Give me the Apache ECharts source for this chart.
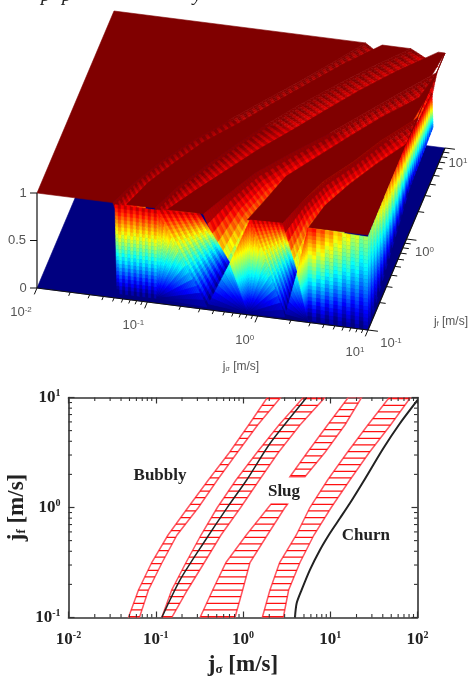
<!DOCTYPE html>
<html><head><meta charset="utf-8">
<style>html,body{margin:0;padding:0;background:#fff}#c{width:471px;height:677px;filter:blur(0.55px)}</style>
<script src="https://cdn.jsdelivr.net/npm/echarts@6/dist/echarts.min.js"></script>
</head><body><div id="c"></div>
<script>
// ---------- values (all exponents are log10 of m/s) ----------
const logJfRows   = [-1,-0.75,-0.5,-0.25,0,0.25,0.5,0.75,1];
const band1Left   = [-1.313,-1.198,-1.046,-0.859,-0.630,-0.397,-0.156,0.065,0.279];
const band1Right  = [-1.187,-1.084,-0.927,-0.756,-0.511,-0.294,-0.065,0.168,0.431];
const band2Left   = [-0.931,-0.817,-0.653,-0.481,-0.294,-0.080,0.160,0.412,0.691];
const band2Right  = [-0.817,-0.637,-0.443,-0.252,-0.027,0.187,0.405,0.653,0.939];
const band3Left   = [-0.492,-0.347,-0.195,0.038,0.290,0.511,0.737,0.969,1.206];
const band3Right  = [-0.092,-0.004,0.080,0.279,0.481,0.691,0.939,1.168,1.359];
const band4Left   = [0.221,0.309,0.420,0.611,0.767,0.970,1.195,1.431,1.676];
const band4Right  = [0.462,0.523,0.653,0.813,1.011,1.225,1.447,1.691,1.920];
// depth of each transition trough (lowest probability per row)
const band1Depth  = [0.65,0.78,0.82,0.84,0.85,0.85,0.86,0.86,0.88];
const band2Depth  = [0.65,0.75,0.78,0.8,0.82,0.84,0.84,0.85,0.85];
const band3Depth  = [0,0.5,0.6,0.66,0.7,0.74,0.78,0.82,0.85];
const band4Depth  = [0,0.5,0.55,0.6,0.65,0.7,0.75,0.8,0.85];
// slug band gap in the 2-D map
const band3LowJf    = [-1,-0.75,-0.5,-0.25,0,0.03];
const band3LowLeft  = [-0.492,-0.347,-0.195,0.038,0.290,0.320];
const band3LowRight = [-0.092,-0.004,0.080,0.279,0.481,0.510];
const band3UpJf     = [0.28,0.5,0.75,1];
const band3UpLeft   = [0.538,0.737,0.969,1.206];
const band3UpRight  = [0.710,0.939,1.168,1.359];
// black transition curves
const curve1Jg = [-0.931,-0.721,-0.454,-0.187,0.042,0.309,0.729];
const curve1Jf = [-1,-0.658,-0.325,-0.008,0.25,0.582,1];
const curve2Jg = [0.595,0.615,0.672,0.767,0.882,0.996,1.111,1.225,1.378,1.607,1.798,2];
const curve2Jf = [-1,-0.87,-0.749,-0.567,-0.386,-0.234,-0.098,0.038,0.234,0.537,0.764,0.976];
// front faces of the surface: [log jg, log jf, z, colour level]
const frontFaces = [
 [[-1.293,-1,0.98,0.93],[-0.912,-1,0.98,0.93],[-0.912,-1,0.05,0],[-1.275,-1,0.05,0]],
 [[-0.912,-1,0.98,0.93],[-0.523,-1,1.0,0.93],[-0.251,-1,0.521,0.06],[-0.459,-1,0.027,0]],
 [[-0.912,-1,0.98,0.93],[-0.459,-1,0.027,0],[-0.912,-1,0.05,0],[-0.912,-1,0.05,0]],
 [[-0.459,-1,0.027,0],[-0.251,-1,0.521,0.42],[-0.088,-1,0.019,0],[-0.088,-1,0.019,0]],
 [[-0.251,-1,0.521,0.6],[-0.069,-1,1,0.9],[-0.088,-1,0.019,0],[-0.088,-1,0.019,0]],
 [[-0.069,-1,1,0.93],[0.221,-1,1.01,0.93],[0.357,-1,0.505,0.08],[0.248,-1,0.026,0]],
 [[-0.069,-1,1,0.93],[0.248,-1,0.026,0],[-0.088,-1,0.019,0],[-0.088,-1,0.019,0]],
 [[0.248,-1,0.026,0],[0.357,-1,0.505,0.42],[0.456,-1,0.025,0],[0.456,-1,0.025,0]],
 [[0.357,-1,0.505,0.6],[0.456,-1,0.994,0.9],[0.456,-1,0.025,0],[0.456,-1,0.025,0]],
 [[0.456,-1,0.994,0.9],[1,-1,0.979,0.5],[1,-1,0,0],[0.456,-1,0.025,0]]
];
const rightFaces = [
 [[1,-1,0.98,0.5],[1,-0.04,1,0.93],[1,0.09,0.46,0.03],[1,-1,0,0]],
 [[1,-0.04,1,0.93],[1,0.66,0.905,0.98],[1,0.688,0.516,0.2],[1,0.09,0.46,0.03]]
];
const jgTickExp = [-2,-1,0,1];
const jfTickExp = [-1,0,1];
const zTicks = [0,0.5,1];
const minorFactors = [2,3,4,5,6,7,8,9];
const regimeLabels = [['Bubbly',0.112,1.93],['Slug',2.95,1.39],['Churn',25.6,0.555]];

// ---------- view of the 3-D box ----------
const view = {ox:37,oy:288,ux:331,uy:42,vx:77,vy:-182,zh:95};
function project(lj,lf,z){
  const u=(lj+2)/3, v=(lf+1)/2;
  return [view.ox+view.ux*u+view.vx*v, view.oy+view.uy*u+view.vy*v-view.zh*z];
}
function jet(t){
  t=Math.max(0,Math.min(1,t));
  const f=a=>Math.round(255*Math.max(0,Math.min(1,1.5-Math.abs(4*t-a))));
  return 'rgb('+f(3)+','+f(2)+','+f(1)+')';
}
const cells=[];
function addCell(pts,c){cells.push({pts:pts.map(p=>project(Math.min(p[0],1),p[1],p[2])),fill:jet(c)});}
const lerp=(a,b,t)=>a+(b-a)*t;
function addPlateau(left,right){
  const pts=[];
  logJfRows.forEach((lf,i)=>pts.push([left?left[i]:-2,lf,1]));
  for(let i=logJfRows.length-1;i>=0;i--)pts.push([right?right[i]:1,logJfRows[i],1]);
  addCell(pts,1);
}
let rowCounter=0;
function addTrough(left,right,depth){
  const nv=12,nu=10;
  for(let i=logJfRows.length-2;i>=0;i--){
    for(let t=nv-1;t>=0;t--){
      rowCounter++;
      const a=t/nv,b=(t+1)/nv;
      const lfA=lerp(logJfRows[i],logJfRows[i+1],a),lfB=lerp(logJfRows[i],logJfRows[i+1],b);
      const LA=lerp(left[i],left[i+1],a),LB=lerp(left[i],left[i+1],b);
      const RA=lerp(right[i],right[i+1],a),RB=lerp(right[i],right[i+1],b);
      const dA=lerp(depth[i],depth[i+1],a),dB=lerp(depth[i],depth[i+1],b);
      for(let s=0;s<nu;s++){
        const p=s/nu,q=(s+1)/nu;
        if(Math.min(LA+(RA-LA)*p,LB+(RB-LB)*p)>1)continue;
        const zz=(d,x)=>1-(1-d)*x;
        const cz=zz((dA+dB)/2,(p+q)/2);
        const streak=(rowCounter%2?0.035:-0.01)*(p>0.05?1:0);
        addCell([[lerp(LA,RA,p),lfA,zz(dA,p)],[lerp(LA,RA,q),lfA,zz(dA,q)],[lerp(LB,RB,q),lfB,zz(dB,q)],[lerp(LB,RB,p),lfB,zz(dB,p)]],cz+streak);
      }
    }
  }
}
function addFace(face,nu,nv,amp){
  const bil=(k,s,t)=>lerp(lerp(face[0][k],face[1][k],s),lerp(face[3][k],face[2][k],s),t);
  for(let i=0;i<nu;i++)for(let j=0;j<nv;j++){
    const s0=i/nu,s1=(i+1)/nu,t0=j/nv,t1=(j+1)/nv;
    const P=(s,t)=>[bil(0,s,t),bil(1,s,t),bil(2,s,t)];
    addCell([P(s0,t0),P(s1,t0),P(s1,t1),P(s0,t1)],bil(3,(s0+s1)/2,(t0+t1)/2)+(i%2?amp:-amp));
  }
}
addCell([[-2,-1,0],[1,-1,0],[1,1,0],[-2,1,0]],0);
addPlateau(null,band1Left);
addTrough(band1Left,band1Right,band1Depth);
addPlateau(band1Right,band2Left);
addTrough(band2Left,band2Right,band2Depth);
addPlateau(band2Right,band3Left);
addTrough(band3Left,band3Right,band3Depth);
addPlateau(band3Right,band4Left);
addTrough(band4Left,band4Right,band4Depth);
addPlateau(band4Right,null);
rightFaces.forEach(f=>addFace(f,26,22,0.025));
frontFaces.forEach((f,i)=>addFace(f,14,24,(f[2][0]===f[3][0])?0.008:0.03));

const p10=x=>Math.pow(10,x);
const edge=(rows,vals)=>rows.map((r,i)=>[p10(vals[i]),p10(r)]);
const bandEdges=[
  [edge(logJfRows,band1Left),edge(logJfRows,band1Right)],
  [edge(logJfRows,band2Left),edge(logJfRows,band2Right)],
  [edge(band3LowJf,band3LowLeft),edge(band3LowJf,band3LowRight)],
  [edge(band3UpJf,band3UpLeft),edge(band3UpJf,band3UpRight)],
  [edge(logJfRows,band4Left),edge(logJfRows,band4Right)]
];
function xOnEdge(pix,y){
  for(let i=0;i<pix.length-1;i++){
    const a=pix[i],b=pix[i+1];
    if(y<=a[1]&&y>=b[1])return lerp(a[0],b[0],(a[1]-y)/((a[1]-b[1])||1));
  }
  return null;
}
const hatchGap=6.6;
function bandSeries(e){
  const verts=e[0].concat(e[1].slice().reverse());
  return {type:'custom',coordinateSystem:'cartesian2d',xAxisIndex:0,yAxisIndex:0,silent:true,clip:true,z:3,
    data:verts,encode:{x:0,y:1},
    renderItem(params,api){
      if(params.dataIndex!==0)return null;
      const L=e[0].map(p=>api.coord(p)),R=e[1].map(p=>api.coord(p));
      const kids=[{type:'polygon',shape:{points:L.concat(R.slice().reverse())},style:{fill:'none',stroke:'#ff5560',lineWidth:1.5}}];
      for(let y=L[0][1]-1;y>=L[L.length-1][1];y-=hatchGap){
        const a=xOnEdge(L,y),b=xOnEdge(R,y);
        if(a!==null&&b!==null)kids.push({type:'line',shape:{x1:a,y1:y,x2:b,y2:y},style:{stroke:'#ff1010',lineWidth:1.25}});
      }
      return {type:'group',children:kids};
    }};
}
const xMajor=[0.01,0.1,1,10,100],yMajor=[0.1,1,10];
const minorX=[],minorY=[];
xMajor.slice(0,4).forEach(d=>minorFactors.forEach(f=>minorX.push(d*f)));
yMajor.slice(0,2).forEach(d=>minorFactors.forEach(f=>minorY.push(d*f)));

const supLabel=(size,color,weight,family)=>({
  b:{fontSize:size,color,fontWeight:weight,fontFamily:family},
  s:{fontSize:Math.round(size*0.6),color,fontWeight:weight,fontFamily:family,verticalAlign:'top',padding:[0,0,Math.round(size*0.45),0]}
});
const SERIF='"Liberation Serif"',SANS='"Liberation Sans"';
const expFmt=v=>'{b|10}{s|'+Math.round(Math.log10(v))+'}';
const axisCommon={type:'log',logBase:10,splitLine:{show:false},minorTick:{show:false},
  axisLine:{show:true,onZero:false,lineStyle:{color:'#333',width:1.6}},
  axisTick:{show:true,inside:true,length:6,lineStyle:{color:'#333',width:1.2}}};

// ---------- 3-D axis decorations built from tick arrays ----------
const gray='#555';
const deco=[];
const addLine=(a,b,w)=>deco.push({type:'line',shape:{x1:a[0],y1:a[1],x2:b[0],y2:b[1]},style:{stroke:'#111',lineWidth:w||1},z2:5});
addLine(project(-2,-1,0),project(1,-1,0),1.2);
addLine(project(1,-1,0),project(1,1,0),1.2);
addLine(project(-2,-1,0),project(-2,-1,1),1.2);
jgTickExp.forEach((e,i)=>{
  const a=project(e,-1,0);addLine(a,project(e,-1.07,0));
  if(i<3)minorFactors.forEach(f=>{const l=e+Math.log10(f);addLine(project(l,-1,0),project(l,-1.04,0));});
});
jfTickExp.forEach((e,i)=>{
  addLine(project(1,e,0),project(1.09,e,0));
  if(i<2)minorFactors.forEach(f=>{const l=e+Math.log10(f);addLine(project(1,l,0),project(1.055,l,0));});
});
zTicks.forEach(z=>{const a=project(-2,-1,z);addLine(a,[a[0]-7,a[1]]);});
const smallRich={b:{fontSize:13,color:gray,fontFamily:SANS},
  s:{fontSize:8,color:'#64558a',fontFamily:SANS,verticalAlign:'top',padding:[0,0,5,0]}};
const addText=(x,y,text,rich)=>deco.push({type:'text',style:{x,y,text,rich,align:'center',verticalAlign:'middle',font:'13px '+SANS,fill:gray},z2:6});
const jgNudge=[[-16,24],[-14,23],[-13,24],[-13,22]];
const jfNudge=[[23,13],[18,13],[13,15]];
jgTickExp.forEach((e,i)=>{const a=project(e,-1,0);addText(a[0]+jgNudge[i][0],a[1]+jgNudge[i][1],'{b|10}{s|'+e+'}',smallRich);});
jfTickExp.forEach((e,i)=>{const a=project(1,e,0);addText(a[0]+jfNudge[i][0],a[1]+jfNudge[i][1],'{b|10}{s|'+e+'}',smallRich);});
zTicks.forEach(z=>{const a=project(-2,-1,z);addText(a[0]-(z===0.5?20:14),a[1],String(z),smallRich);});
const subRich={b:{fontSize:12,color:gray,fontFamily:SANS},s:{fontSize:7,color:gray,fontFamily:SANS,verticalAlign:'bottom',padding:[5,0,0,0]}};
addText(241,367,'{b|j}{s|σ}{b| [m/s]}',subRich);
addText(451,322,'{b|j}{s|f}{b| [m/s]}',subRich);

const nameRich={j:{fontFamily:SERIF,fontWeight:'bold',fontSize:23,color:'#222'},u:{fontFamily:SERIF,fontWeight:'bold',fontSize:13,color:'#222',verticalAlign:'bottom',padding:[8,0,0,0]}};
const option={
  animation:false,backgroundColor:'#fff',
  grid:{left:68.5,top:397.5,width:349,height:220,containLabel:false,outerBoundsMode:'none'},
  xAxis:[
    Object.assign({},axisCommon,{min:0.01,max:100,position:'bottom',
      axisLabel:{formatter:expFmt,margin:13,rich:supLabel(17,'#222','bold',SERIF),hideOverlap:false,showMinLabel:true,showMaxLabel:true},
      name:'{j|j}{u|σ}{j| [m/s]}',nameLocation:'middle',nameGap:36,nameMoveOverlap:false,
      nameTextStyle:{rich:nameRich}}),
    Object.assign({},axisCommon,{min:0.01,max:100,position:'top',axisLabel:{show:false}})
  ],
  yAxis:[
    Object.assign({},axisCommon,{min:0.1,max:10,position:'left',
      axisLabel:{formatter:expFmt,margin:8,rich:supLabel(17,'#222','bold',SERIF),showMinLabel:true,showMaxLabel:true},
      name:'{j|j}{u|f}{j| [m/s]}',nameLocation:'middle',nameGap:40,nameRotate:90,nameMoveOverlap:false,
      nameTextStyle:{rich:nameRich}}),
    Object.assign({},axisCommon,{min:0.1,max:10,position:'right',axisLabel:{show:false}})
  ],
  graphic:{elements:[
    {type:'text',x:41,y:-14,style:{text:'p',font:'italic 19px '+SERIF,fill:'#222'}},
    {type:'text',x:62,y:-14,style:{text:'p',font:'italic 19px '+SERIF,fill:'#222'}},
    {type:'text',x:193,y:-14,style:{text:'y',font:'italic 19px '+SERIF,fill:'#222'}}
  ]},
  series:[
    {type:'custom',coordinateSystem:'none',silent:true,z:1,data:cells.map((_,i)=>[i]),progressive:0,
     renderItem(params){const c=cells[params.dataIndex];
       return {type:'polygon',shape:{points:c.pts},style:{fill:c.fill,stroke:c.fill,lineWidth:0.6}};}},
    {type:'custom',coordinateSystem:'none',silent:true,z:2,data:[[0]],
     renderItem(){return {type:'group',children:deco};}},
    ...bandEdges.map(bandSeries),
    {type:'line',xAxisIndex:0,yAxisIndex:0,z:4,showSymbol:false,smooth:0.25,silent:true,
     lineStyle:{color:'#222',width:1.5},data:curve1Jg.map((x,i)=>[p10(x),p10(curve1Jf[i])])},
    {type:'line',xAxisIndex:0,yAxisIndex:0,z:4,showSymbol:false,smooth:0.25,silent:true,
     lineStyle:{color:'#222',width:2},data:curve2Jg.map((x,i)=>[p10(x),p10(curve2Jf[i])])},
    {type:'custom',coordinateSystem:'cartesian2d',xAxisIndex:0,yAxisIndex:0,silent:true,z:5,clip:false,
     data:[[1,1]],encode:{x:0,y:1},
     renderItem(params,api){
       const kids=[];
       const L=(a,b,c,d)=>kids.push({type:'line',shape:{x1:a,y1:b,x2:c,y2:d},style:{stroke:'#333',lineWidth:1.1}});
       minorX.forEach(v=>{const b=api.coord([v,0.1]),t=api.coord([v,10]);L(b[0],b[1],b[0],b[1]-3.5);L(t[0],t[1],t[0],t[1]+3.5);});
       minorY.forEach(v=>{const l=api.coord([0.01,v]),r=api.coord([100,v]);L(l[0],l[1],l[0]+3.5,l[1]);L(r[0],r[1],r[0]-3.5,r[1]);});
       return {type:'group',children:kids};
     }},
    {type:'custom',coordinateSystem:'cartesian2d',xAxisIndex:0,yAxisIndex:0,silent:true,z:6,clip:false,
     data:regimeLabels.map(r=>[r[1],r[2]]),encode:{x:0,y:1},
     renderItem(params,api){const p=api.coord([api.value(0),api.value(1)]);
       return {type:'text',style:{x:p[0],y:p[1],text:regimeLabels[params.dataIndex][0],align:'center',verticalAlign:'middle',
         font:'bold 17px '+SERIF,fill:'#222'}};}}
  ]
};
const chart=echarts.init(document.getElementById('c'),null,{renderer:'canvas',width:471,height:677});
chart.setOption(option);
</script></body></html>
